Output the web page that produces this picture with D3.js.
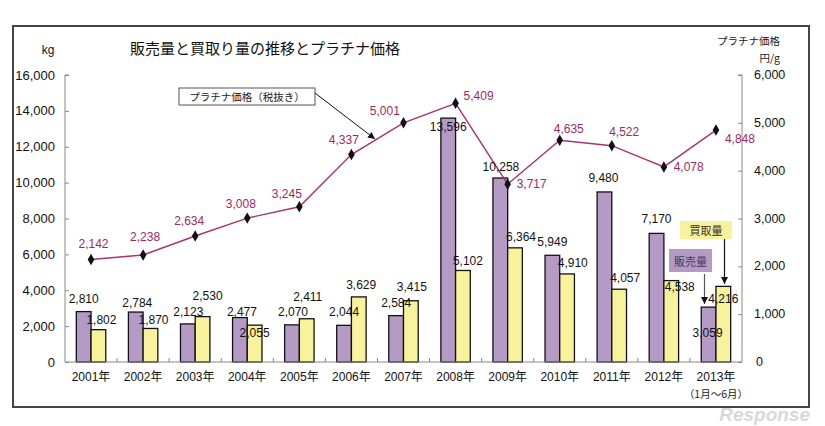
<!DOCTYPE html>
<html>
<head>
<meta charset="utf-8">
<script src="https://cdn.jsdelivr.net/npm/d3@7"></script>
<style>
  html, body { margin: 0; padding: 0; background: #fff; }
  svg { display: block; }
  text { font-family: "Liberation Sans", Arial, "Noto Sans CJK JP", sans-serif; }
  .jp { font-family: "Noto Sans CJK JP", sans-serif; }
</style>
</head>
<body>
<svg id="chart" width="825" height="426"></svg>
<script>
// ---- data ----
const years = ["2001年","2002年","2003年","2004年","2005年","2006年","2007年","2008年","2009年","2010年","2011年","2012年","2013年"];
const sales = [2810, 2784, 2123, 2477, 2070, 2044, 2584, 13596, 10258, 5949, 9480, 7170, 3059];
const purchases = [1802, 1870, 2530, 2055, 2411, 3629, 3415, 5102, 6364, 4910, 4057, 4538, 4216];
const prices = [2142, 2238, 2634, 3008, 3245, 4337, 5001, 5409, 3717, 4635, 4522, 4078, 4848];
const leftTicks = [0, 2000, 4000, 6000, 8000, 10000, 12000, 14000, 16000];
const rightTicks = [0, 1000, 2000, 3000, 4000, 5000, 6000];

// ---- label nudges (layout) ----
const salesNudge = [[0,-13],[1.5,-9],[0.5,-12],[2,-6],[1,-13],[0,-13.6],[0,-13],[0,8.6],[0.6,-11.3],[0,-13.6],[-1,-13.7],[0,-14],[-1,26]];
const purchNudge = [[3,-10],[3,-8.5],[5,-21],[0,8],[1,-22],[2.4,-12],[1,-13.4],[5,-9.5],[6,-11],[5.7,-10.6],[6,-11],[8.5,6.7],[0,12.3]];
const priceNudge = [[2.5,-16],[2,-17.7],[-6,-15],[-6.4,-14],[-12.5,-12.5],[-7.6,-14.6],[-18.7,-12],[23,-7.6],[24,0],[9,-11],[12.4,-14],[24.8,0],[24,9]];

const svg = d3.select("#chart");
const fmt = d3.format(",");

const plot = {left: 65, right: 742, top: 75, bottom: 362};
const purple = "#b59ac6", yellow = "#f7f29b", lineCol = "#a8336e", labCol = "#9c2a62";

// outer frame
svg.append("rect").attr("x", 13).attr("y", 26).attr("width", 796).attr("height", 381)
  .attr("fill", "none").attr("stroke", "#444").attr("stroke-width", 2);

const x = d3.scaleBand().domain(years).range([plot.left, plot.right]).paddingInner(0).paddingOuter(0);
const x1 = d3.scaleBand().domain(["s","p"]).range([0, x.bandwidth()]).paddingInner(0).paddingOuter(0.77);
const yL = d3.scaleLinear().domain([0, 16000]).range([plot.bottom, plot.top]);
const yR = d3.scaleLinear().domain([0, 6000]).range([plot.bottom, plot.top]);

// axes
const axL = svg.append("g").attr("transform", `translate(${plot.left},0)`)
  .call(d3.axisRight(yL).tickValues(leftTicks).tickSize(4).tickFormat(""));
axL.selectAll("path, line").attr("stroke", "#888");
axL.select(".domain").attr("d", `M4,${plot.top}H0V${plot.bottom}`);
const axR = svg.append("g").attr("transform", `translate(${plot.right},0)`)
  .call(d3.axisLeft(yR).tickValues(rightTicks).tickSize(4).tickFormat(""));
axR.selectAll("path, line").attr("stroke", "#888");
axR.select(".domain").attr("d", `M-4,${plot.top}H0V${plot.bottom}`);

// left tick labels
svg.append("g").selectAll("text").data(leftTicks).join("text")
  .attr("x", 55).attr("y", d => yL(d)).attr("text-anchor", "end")
  .attr("dominant-baseline", "central").attr("font-size", 13).attr("fill", "#111")
  .text(d => fmt(d));
svg.append("g").selectAll("text").data(rightTicks).join("text")
  .attr("x", d => d === 0 ? 756 : 754).attr("y", d => yR(d)).attr("text-anchor", "start")
  .attr("dominant-baseline", "central").attr("font-size", 12.5).attr("fill", "#111")
  .text(d => fmt(d));

// bars
const groups = svg.append("g").selectAll("g").data(years).join("g")
  .attr("transform", d => `translate(${x(d)},0)`);
groups.append("rect").attr("x", x1("s")).attr("width", x1.bandwidth())
  .attr("y", (d, i) => yL(sales[i])).attr("height", (d, i) => yL(0) - yL(sales[i]))
  .attr("fill", purple).attr("stroke", "#111").attr("stroke-width", 1.3);
groups.append("rect").attr("x", x1("p")).attr("width", x1.bandwidth())
  .attr("y", (d, i) => yL(purchases[i])).attr("height", (d, i) => yL(0) - yL(purchases[i]))
  .attr("fill", yellow).attr("stroke", "#111").attr("stroke-width", 1.3);

// bottom axis
const axB = svg.append("g").attr("transform", `translate(0,${plot.bottom})`)
  .call(d3.axisTop(x).tickSize(0).tickFormat(""));
axB.select(".domain").attr("d", `M${plot.left},0H${plot.right}`).attr("stroke", "#888");
axB.selectAll(".tick").remove();
svg.append("g").selectAll("line").data(d3.range(1, years.length)).join("line")
  .attr("x1", i => x(years[i])).attr("x2", i => x(years[i]))
  .attr("y1", plot.bottom - 4).attr("y2", plot.bottom).attr("stroke", "#888");

// year labels
svg.append("g").selectAll("text").data(years).join("text")
  .attr("x", d => x(d) + x.bandwidth() / 2).attr("y", 377)
  .attr("text-anchor", "middle").attr("dominant-baseline", "central")
  .attr("font-size", 12).attr("fill", "#111").text(d => d);
svg.append("text").attr("class", "jp").attr("x", x(years[12]) + x.bandwidth() / 2).attr("y", 393)
  .attr("text-anchor", "middle").attr("dominant-baseline", "central")
  .attr("font-size", 10.5).attr("fill", "#222").text("（1月～6月）");

// price line
const cx = (d) => x(d) + x.bandwidth() / 2;
const line = d3.line().x((d, i) => cx(years[i])).y(d => yR(d));
svg.append("path").datum(prices).attr("d", line).attr("fill", "none")
  .attr("stroke", lineCol).attr("stroke-width", 1.4);
svg.append("g").selectAll("path").data(prices).join("path")
  .attr("d", d3.symbol().type(d3.symbolDiamond).size(38))
  .attr("transform", (d, i) => `translate(${cx(years[i])},${yR(d)})`)
  .attr("fill", "#111");

// value labels
svg.append("g").selectAll("text").data(sales).join("text")
  .attr("x", (d, i) => x(years[i]) + x1("s") + x1.bandwidth() / 2 + salesNudge[i][0])
  .attr("y", (d, i) => yL(d) + salesNudge[i][1])
  .attr("text-anchor", "middle").attr("dominant-baseline", "central")
  .attr("font-size", 12).attr("fill", "#111").text(d => fmt(d));
svg.append("g").selectAll("text").data(purchases).join("text")
  .attr("x", (d, i) => x(years[i]) + x1("p") + x1.bandwidth() / 2 + purchNudge[i][0])
  .attr("y", (d, i) => yL(d) + purchNudge[i][1])
  .attr("text-anchor", "middle").attr("dominant-baseline", "central")
  .attr("font-size", 12).attr("fill", "#111").text(d => fmt(d));
svg.append("g").selectAll("text").data(prices).join("text")
  .attr("x", (d, i) => cx(years[i]) + priceNudge[i][0])
  .attr("y", (d, i) => yR(d) + priceNudge[i][1])
  .attr("text-anchor", "middle").attr("dominant-baseline", "central")
  .attr("font-size", 12).attr("fill", labCol).text(d => fmt(d));

// titles
svg.append("text").attr("class", "jp").attr("x", 265).attr("y", 47)
  .attr("text-anchor", "middle").attr("dominant-baseline", "central")
  .attr("font-size", 15).attr("fill", "#111").text("販売量と買取り量の推移とプラチナ価格");
svg.append("text").attr("x", 48).attr("y", 50).attr("text-anchor", "middle")
  .attr("dominant-baseline", "central").attr("font-size", 12).attr("fill", "#111").text("kg");
svg.append("text").attr("class", "jp").attr("x", 780).attr("y", 40).attr("text-anchor", "end")
  .attr("dominant-baseline", "central").attr("font-size", 10.5).attr("fill", "#222").text("プラチナ価格");
svg.append("text").attr("class", "jp").attr("x", 780).attr("y", 57).attr("text-anchor", "end")
  .attr("dominant-baseline", "central").attr("font-size", 10.5).attr("fill", "#222").text("円/g");

// arrow marker
const defs = svg.append("defs");
defs.append("marker").attr("id", "arr").attr("viewBox", "0 0 10 10").attr("refX", 10).attr("refY", 5)
  .attr("markerWidth", 7).attr("markerHeight", 7).attr("markerUnits", "userSpaceOnUse").attr("orient", "auto")
  .append("path").attr("d", "M0,0L10,5L0,10Z").attr("fill", "#111");

// legend callout for price
svg.append("rect").attr("x", 179).attr("y", 88).attr("width", 136).attr("height", 17)
  .attr("fill", "#fff").attr("stroke", "#555").attr("stroke-width", 1);
svg.append("text").attr("class", "jp").attr("x", 247).attr("y", 96.5).attr("text-anchor", "middle")
  .attr("dominant-baseline", "central").attr("font-size", 10.5).attr("fill", "#222").text("プラチナ価格（税抜き）");
svg.append("line").attr("x1", 315).attr("y1", 93).attr("x2", 375).attr("y2", 139)
  .attr("stroke", "#111").attr("stroke-width", 1).attr("marker-end", "url(#arr)");

// series callouts
svg.append("rect").attr("x", 669).attr("y", 249).attr("width", 43).attr("height", 23).attr("fill", purple);
svg.append("text").attr("class", "jp").attr("x", 690.5).attr("y", 260.5).attr("text-anchor", "middle")
  .attr("dominant-baseline", "central").attr("font-size", 11).attr("fill", "#4a3a5a").text("販売量");
svg.append("line").attr("x1", 704.5).attr("y1", 274).attr("x2", 704.5).attr("y2", 304)
  .attr("stroke", "#555").attr("stroke-width", 1.2).attr("marker-end", "url(#arr)");
svg.append("rect").attr("x", 680).attr("y", 221).attr("width", 52).attr("height", 18).attr("fill", yellow);
svg.append("text").attr("class", "jp").attr("x", 706).attr("y", 230).attr("text-anchor", "middle")
  .attr("dominant-baseline", "central").attr("font-size", 11).attr("fill", "#333").text("買取量");
svg.append("line").attr("x1", 724.5).attr("y1", 239).attr("x2", 724.5).attr("y2", 284)
  .attr("stroke", "#111").attr("stroke-width", 1.2).attr("marker-end", "url(#arr)");

// watermark
svg.append("text").attr("x", 810).attr("y", 421).attr("text-anchor", "end")
  .attr("font-size", 19).attr("font-style", "italic").attr("font-weight", "bold")
  .attr("fill", "#cfcfcf").attr("opacity", 0.8).text("Response");
</script>
</body>
</html>
